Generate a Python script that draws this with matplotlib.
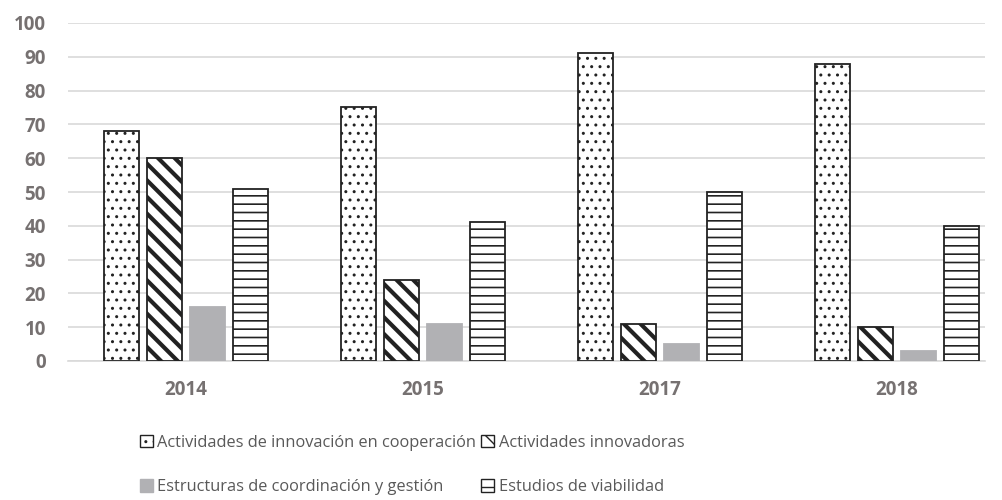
import matplotlib.pyplot as plt
import numpy as np

# Data
years = ['2014', '2015', '2017', '2018']
cooperacion = [68, 75, 91, 88]
innovadoras = [60, 24, 11, 10]
estructuras = [16, 11, 5, 3]
viabilidad = [51, 41, 50, 40]

series_names = ['Actividades de innovación en cooperación', 'Actividades innovadoras',
                'Estructuras de coordinación y gestión', 'Estudios de viabilidad']
series_values = [cooperacion, innovadoras, estructuras, viabilidad]
hatches = ['..', '\\\\', '', '--']
facecolors = ['white', 'white', '#b1b1b4', 'white']
edgecolors = ['#222222', '#222222', '#b1b1b4', '#222222']
hatch_widths = [1.0, 3.0, 1.0, 1.2]

plt.rcParams['font.family'] = ['Open Sans', 'DejaVu Sans']

fig = plt.figure(figsize=(10.03, 5.0), dpi=100)
ax = fig.add_axes([68 / 1003, 139 / 500, 917 / 1003, 338 / 500])

x = np.arange(len(years))
width = 0.148
step = 0.181
offsets = (np.arange(4) - 1.5) * step

handles = []
for i in range(4):
    bars = ax.bar(x + offsets[i], series_values[i], width, color=facecolors[i],
                  edgecolor=edgecolors[i], hatch=hatches[i], linewidth=1.3,
                  label=series_names[i], zorder=3)
    for b in bars:
        try:
            b.set_hatch_linewidth(hatch_widths[i])
        except AttributeError:
            pass
    handles.append(bars)

ax.set_xlim(-0.498, 3.371)
ax.set_ylim(0, 100)
ax.set_yticks(range(0, 101, 10))
ax.set_xticks(x)
ax.set_xticklabels(years)
ax.grid(axis='y', color='#d9d9d9', linewidth=1.2, zorder=0)
for s in ['top', 'right', 'left']:
    ax.spines[s].set_visible(False)
ax.spines['bottom'].set_color('#d9d9d9')
ax.spines['bottom'].set_linewidth(1.2)
ax.tick_params(length=0, labelsize=13.5, labelcolor='#767171')
ax.tick_params(axis='y', pad=16)
ax.tick_params(axis='x', pad=14)
for lab in ax.get_xticklabels() + ax.get_yticklabels():
    lab.set_fontweight('bold')

# legend filled row by row like the original
order = [0, 2, 1, 3]
leg = fig.legend([handles[k] for k in order], [series_names[k] for k in order],
                 loc='center left', bbox_to_anchor=(132 / 1003, 0.07), ncol=2,
                 frameon=False, fontsize=11.8, labelcolor='#595959',
                 handlelength=0.8, handleheight=0.8, handletextpad=0.25,
                 columnspacing=0.3, labelspacing=1.75, borderpad=0)
for h in leg.legend_handles:
    h.set_linewidth(1.0)

fig.savefig('out.png', dpi=100)
